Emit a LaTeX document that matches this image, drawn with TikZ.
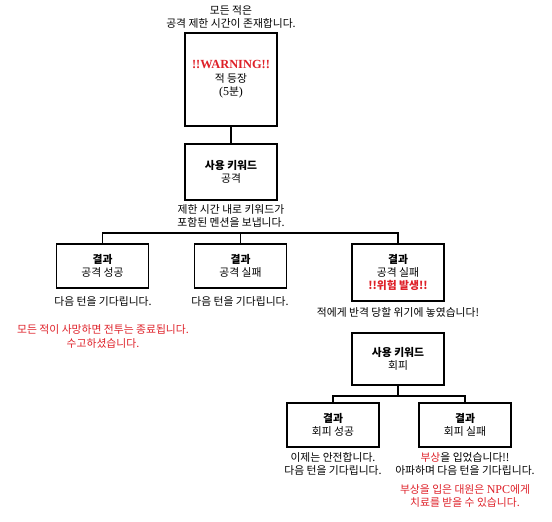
\documentclass[tikz,border=0pt]{standalone}
\usepackage{fontspec}
\setmainfont{Noto Sans CJK KR}
\newfontfamily\lat{Liberation Serif}
\definecolor{warn}{RGB}{222,32,40}
\begin{document}
\begin{tikzpicture}[x=1pt,y=-1pt,
  box/.style={draw,line width=1.3pt,minimum width=92pt,align=center,inner sep=0pt},
  txt/.style={align=center,inner sep=0pt},
  redtxt/.style={txt,text=warn},
  conn/.style={line width=1.3pt},
  font=\fontsize{10.8}{13.4}\selectfont]
\useasboundingbox (0,0) rectangle (552,522);
% boxes
\node[box,minimum height=93pt] (b1) at (231,79.5)
  {{\lat\fontsize{12.4}{13.4}\selectfont\bfseries\color{warn}!!WARNING!!}\\적 등장\\{\lat\fontsize{12}{13.4}\selectfont(5}분{\lat\fontsize{12}{13.4}\selectfont)}};
\node[box,minimum height=56pt] (b2) at (231,172) {\textbf{사용 키워드}\\공격};
\node[box,minimum height=44pt] (b3) at (102.5,266) {\textbf{결과}\\공격 성공};
\node[box,minimum height=44pt] (b4) at (240.5,266) {\textbf{결과}\\공격 실패};
\node[box,minimum height=57pt] (b5) at (398,272.5) {\textbf{결과}\\공격 실패\\{\bfseries\color{warn}!!위험 발생!!}};
\node[box,minimum height=52pt] (b6) at (398,359) {\textbf{사용 키워드}\\회피};
\node[box,minimum height=44pt] (b7) at (333,425) {\textbf{결과}\\회피 성공};
\node[box,minimum height=44pt] (b8) at (465,425) {\textbf{결과}\\회피 실패};
% texts
\node[txt] (t0) at (231,17) {모든 적은\\공격 제한 시간이 존재합니다.};
\node[txt] (t2) at (231,216) {제한 시간 내로 키워드가\\포함된 멘션을 보냅니다.};
\node[txt] (t3) at (103,301) {다음 턴을 기다립니다.};
\node[txt] (t4) at (240,301) {다음 턴을 기다립니다.};
\node[redtxt] (r1) at (103,336.5) {모든 적이 사망하면 전투는 종료됩니다.\\수고하셨습니다.};
\node[txt] (t5) at (398,312) {적에게 반격 당할 위기에 놓였습니다!};
\node[txt] (t7) at (333,464) {이제는 안전합니다.\\다음 턴을 기다립니다.};
\node[txt] (t8) at (465,464) {{\color{warn}부상}을 입었습니다!!\\아파하며 다음 턴을 기다립니다.};
\node[redtxt] (r2) at (465,496) {부상을 입은 대원은 {\lat\fontsize{12}{13.4}\selectfont NPC}에게\\치료를 받을 수 있습니다.};
% connectors
\coordinate (bar) at (0,233);
\coordinate (bar2) at (0,396);
\draw[conn] (b1) -- (b2);
\draw[conn] (b3.north) |- (b5.north |- bar) -- (b5.north);
\draw[conn] (b4.north) -- (b4.north |- bar);
\draw[conn] (b6.south) -- (b6.south |- bar2);
\draw[conn] (b7.north) |- (b8.north |- bar2) -- (b8.north);
\end{tikzpicture}
\end{document}
